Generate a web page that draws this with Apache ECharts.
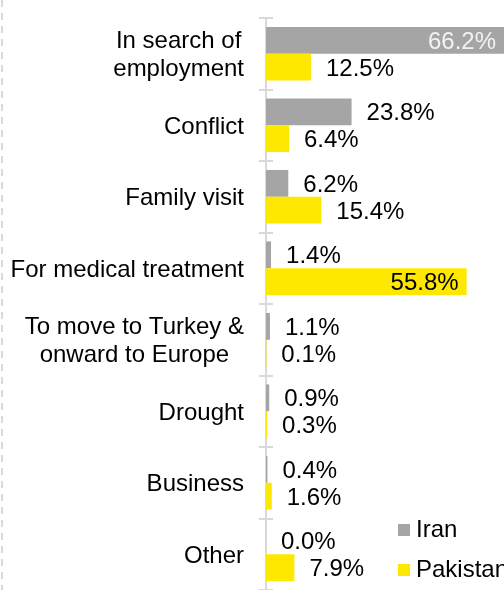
<!DOCTYPE html>
<html>
<head>
<meta charset="utf-8">
<script src="https://cdn.jsdelivr.net/npm/echarts@6/dist/echarts.min.js"></script>
<style>
  html, body { margin: 0; padding: 0; background: #fff; }
  #chart { width: 504px; height: 590px; }
</style>
</head>
<body>
<div id="chart"></div>
<script>
// Reasons for travel, share of respondents by destination country (%)
const categories = [
  'In search of\nemployment',
  'Conflict',
  'Family visit',
  'For medical treatment',
  'To move to Turkey &\nonward to Europe',
  'Drought',
  'Business',
  'Other'
];
const iranValues = [66.2, 23.8, 6.2, 1.4, 1.1, 0.9, 0.4, 0.0];
const pakistanValues = [12.5, 6.4, 15.4, 55.8, 0.1, 0.3, 1.6, 7.9];
const seriesNames = ['Iran', 'Pakistan'];

const GRAY = '#a5a5a5';
const YELLOW = '#ffe800';
const AXIS = '#d9d9d9';
const FONT = '"Liberation Sans", Arial, sans-serif';
const FS = 24;

const xMax = Math.max(...iranValues, ...pakistanValues);

// Labels for the longest bars sit inside the bar end
function barData(values, insideColor) {
  return values.map(v => {
    if (v >= 50) {
      return {
        value: v,
        label: { position: 'insideRight', distance: 8, color: insideColor }
      };
    }
    return v;
  });
}

const chart = echarts.init(document.getElementById('chart'), null, { renderer: 'canvas' });

const valueLabel = {
  show: true,
  position: 'right',
  distance: 15,
  offset: [0, 2],
  color: '#000',
  fontFamily: FONT,
  fontSize: FS,
  formatter: p => p.value.toFixed(1) + '%'
};

chart.setOption({
  animation: false,
  backgroundColor: '#fff',
  textStyle: { fontFamily: FONT },
  grid: { left: 266, right: 0, top: 18, bottom: -3, containLabel: false },
  xAxis: {
    type: 'value',
    min: 0,
    max: xMax,
    show: false
  },
  yAxis: [
    {
      type: 'category',
      data: categories,
      inverse: true,
      position: 'left',
      axisLine: { show: true, lineStyle: { color: AXIS, width: 2 } },
      axisTick: { show: true, length: 7, lineStyle: { color: AXIS, width: 2 } },
      axisLabel: {
        margin: 22,
        color: '#000',
        fontFamily: FONT,
        fontSize: FS,
        lineHeight: 28,
        padding: [4, 0, 0, 0],
        formatter: v => v.split('\n').map(s => '{c|' + s + '}').join('\n'),
        rich: {
          c: { align: 'center', fontFamily: FONT, fontSize: FS, lineHeight: 28, color: '#000' }
        }
      },
      splitLine: { show: false }
    },
    {
      type: 'category',
      data: categories,
      inverse: true,
      position: 'left',
      axisLine: { show: false },
      axisTick: { show: true, inside: true, length: 7, lineStyle: { color: AXIS, width: 2 } },
      axisLabel: { show: false },
      splitLine: { show: false }
    }
  ],
  legend: {
    orient: 'vertical',
    left: 398,
    top: 518,
    padding: 0,
    itemWidth: 12,
    itemHeight: 12,
    itemGap: 16,
    icon: 'rect',
    textStyle: { color: '#000', fontFamily: FONT, fontSize: FS, padding: [0, 0, 0, 1] },
    data: seriesNames
  },
  series: [
    {
      name: seriesNames[0],
      type: 'bar',
      yAxisIndex: 0,
      data: barData(iranValues, '#f2f2f2'),
      itemStyle: { color: GRAY },
      barGap: '0%',
      barCategoryGap: '25%',
      label: valueLabel
    },
    {
      name: seriesNames[1],
      type: 'bar',
      yAxisIndex: 0,
      data: barData(pakistanValues, '#000'),
      itemStyle: { color: YELLOW },
      barGap: '0%',
      barCategoryGap: '25%',
      label: valueLabel
    }
  ],
  graphic: [
    {
      type: 'line',
      shape: { x1: 2, y1: 0, x2: 2, y2: 590 },
      style: { stroke: AXIS, lineWidth: 2, lineDash: [7, 6] },
      silent: true
    }
  ]
});
</script>
</body>
</html>
